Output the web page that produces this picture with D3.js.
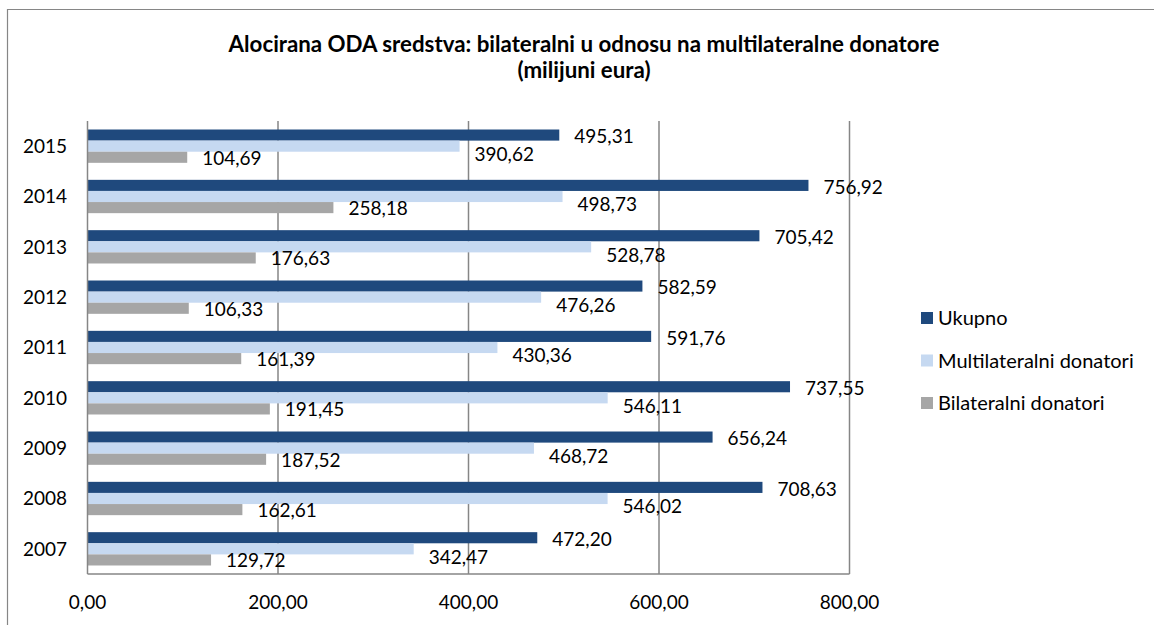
<!DOCTYPE html>
<html>
<head>
<meta charset="utf-8">
<script src="https://cdn.jsdelivr.net/npm/d3@7"></script>
<style>
  html, body { margin: 0; padding: 0; background: #fff; }
  svg { display: block; font-family: Lato, "Open Sans", sans-serif; }
</style>
</head>
<body>
<svg id="chart" width="1154" height="625"></svg>
<script>
const years = ["2007", "2008", "2009", "2010", "2011", "2012", "2013", "2014", "2015"];
const seriesNames = ["Ukupno", "Multilateralni donatori", "Bilateralni donatori"];
const ukupno = [472.20, 708.63, 656.24, 737.55, 591.76, 582.59, 705.42, 756.92, 495.31];
const multilateralni = [342.47, 546.02, 468.72, 546.11, 430.36, 476.26, 528.78, 498.73, 390.62];
const bilateralni = [129.72, 162.61, 187.52, 191.45, 161.39, 106.33, 176.63, 258.18, 104.69];
const xTicks = [0, 200, 400, 600, 800];
const titleLines = ["Alocirana ODA sredstva: bilateralni u odnosu na multilateralne donatore", "(milijuni eura)"];

const colors = ["#1F497D", "#C6D9F1", "#A6A6A6"];
const seriesValues = [ukupno, multilateralni, bilateralni];
const labelDy = [1.5, 8, 0.5];

const svg = d3.select("#chart");
const fmt = v => d3.format(".2f")(v).replace(".", ",");

// outer border
svg.append("path")
  .attr("d", "M7.5,625 L7.5,9.5 L1154,9.5")
  .attr("fill", "none").attr("stroke", "#868686").attr("stroke-width", 1.2);

// title
const title = svg.append("text").attr("text-anchor", "middle")
  .attr("font-weight", "bold").attr("font-size", 22.3).attr("fill", "#000");
title.selectAll("tspan").data(titleLines).join("tspan")
  .attr("x", 584).attr("y", (d, i) => 52 + i * 26).text(d => d);

const x = d3.scaleLinear().domain([0, 800]).range([87.5, 849.5]);
const y = d3.scaleBand().domain(years.slice().reverse()).range([121, 574]).paddingInner(0).paddingOuter(0);
const inner = d3.scaleBand().domain(seriesNames)
  .range([y.bandwidth() * 0.169, y.bandwidth() * 0.831]);

// gridlines
svg.append("g").selectAll("line").data(xTicks.slice(1)).join("line")
  .attr("x1", d => x(d)).attr("x2", d => x(d))
  .attr("y1", 121).attr("y2", 574)
  .attr("stroke", "#868686").attr("stroke-width", 1.5);

// bars
const groups = svg.append("g").selectAll("g").data(years).join("g")
  .attr("transform", d => `translate(0,${y(d)})`);

seriesNames.forEach((s, si) => {
  groups.append("rect")
    .attr("x", x(0))
    .attr("y", inner(s))
    .attr("width", (d, i) => x(seriesValues[si][i]) - x(0))
    .attr("height", inner.bandwidth())
    .attr("fill", colors[si]);
});

// axes lines
svg.append("line").attr("x1", x(0)).attr("x2", x(0)).attr("y1", 121).attr("y2", 574)
  .attr("stroke", "#868686").attr("stroke-width", 1.5);
svg.append("line").attr("x1", x(0)).attr("x2", x(800)).attr("y1", 574).attr("y2", 574)
  .attr("stroke", "#868686").attr("stroke-width", 1.5);

// value labels
seriesNames.forEach((s, si) => {
  groups.append("text")
    .attr("x", (d, i) => x(seriesValues[si][i]) + 15)
    .attr("y", inner(s) + inner.bandwidth() / 2 + labelDy[si])
    .attr("dy", "0.36em")
    .attr("font-size", 19).attr("fill", "#000")
    .text((d, i) => fmt(seriesValues[si][i]));
});

// y axis labels
svg.append("g").selectAll("text").data(years).join("text")
  .attr("x", 67).attr("y", d => y(d) + y.bandwidth() / 2)
  .attr("dy", "0.36em").attr("text-anchor", "end")
  .attr("font-size", 19).attr("fill", "#000").text(d => d);

// x axis labels
svg.append("g").selectAll("text").data(xTicks).join("text")
  .attr("x", d => x(d)).attr("y", 602).attr("dy", "0.36em")
  .attr("text-anchor", "middle").attr("font-size", 19).attr("fill", "#000")
  .text(d => fmt(d));

// legend
const legend = svg.append("g").selectAll("g").data(seriesNames).join("g")
  .attr("transform", (d, i) => `translate(921,${318 + i * 42.5})`);
legend.append("rect").attr("x", 0).attr("y", -6).attr("width", 12).attr("height", 12)
  .attr("fill", (d, i) => colors[i]);
legend.append("text").attr("x", 17).attr("y", 0).attr("dy", "0.36em")
  .attr("font-size", 20).attr("fill", "#000").text(d => d);
</script>
</body>
</html>
